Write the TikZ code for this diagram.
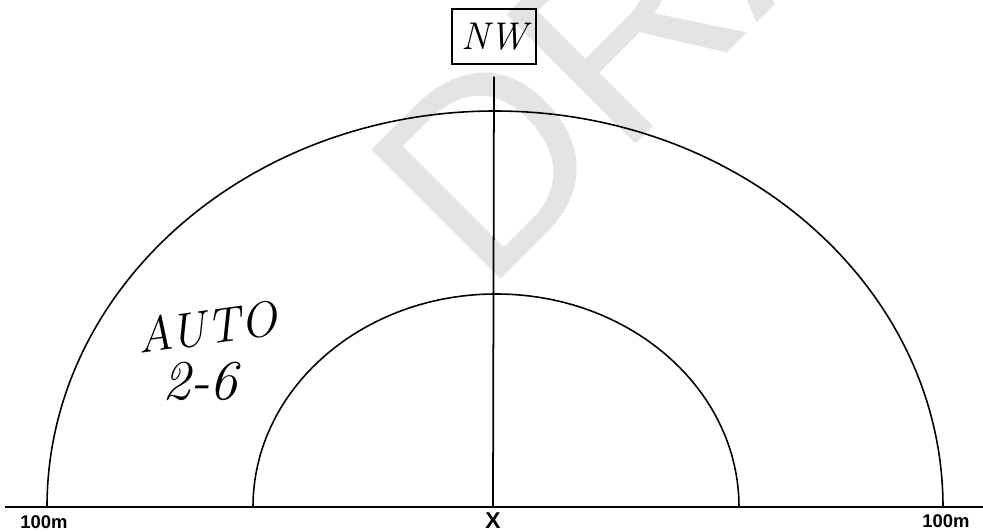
\documentclass[tikz,border=0pt]{standalone}
\usepackage{fontspec}
\newfontfamily\lblfont{Liberation Sans}
\usepackage{xcolor}
\definecolor{rgink}{HTML}{000000}
\definecolor{rgwater}{HTML}{E4E4E4}
\usepackage{tikz}
\usetikzlibrary{positioning}
\tikzset{
  rgbase/.style ={draw=rgink, line width=1.2pt},
  rgarc/.style  ={draw=rgink, line width=0.9pt},
  rgaxis/.style ={draw=rgink, line width=1.0pt},
  rgbox/.style  ={rectangle, draw=rgink, line width=0.6pt, minimum width=1.68cm,
                  minimum height=1.1cm, inner sep=0pt,
                  font=\fontsize{22}{22}\selectfont\itshape},
  rghand/.style ={inner sep=0pt, font=\fontsize{28}{28}\selectfont\itshape},
  rglbl/.style  ={inner sep=0pt, font=\lblfont\bfseries\fontsize{10.5}{11}\selectfont},
  rgmark/.style ={rglbl, font=\lblfont\bfseries\fontsize{13}{13}\selectfont},
  rgdraft/.style={inner sep=0pt, text=rgwater, rotate=45, anchor=base west,
                  font=\lblfont\fontsize{151}{151}\selectfont},
}
\begin{document}
\begin{tikzpicture}
  \useasboundingbox (-9.86,-0.48) rectangle (9.80,10.14);
  % watermark
  \begin{scope}
    \clip (-9.86,-0.48) rectangle (9.80,10.14);
    \node[rgdraft] (wm) at (-0.16,4.24) {DRAFT};
  \end{scope}
  % ground line and range rings
  \coordinate (o)  at (0,0);
  \coordinate (bl) at (-9.76,0);
  \coordinate (br) at (9.80,0);
  \draw[rgarc] (-8.92,0) arc[start angle=180, end angle=0, x radius=8.96, y radius=7.92];
  \draw[rgarc] (-4.80,0) arc[start angle=180, end angle=0, x radius=4.86, y radius=4.26];
  \draw[rgbase] (bl) -- (br);
  % bearing
  \node[rgbox] (nw) at (0.02,9.41) {NW};
  \draw[rgaxis] ([yshift=-2.4mm]nw.south) -- (o);
  % labels
  \node[rglbl]  (ll) at (-8.98,-0.31) {100m};
  \node[rglbl]  (lr) at (9.06,-0.28)  {100m};
  \node[rgmark] (lx) at (0,-0.27)     {X};
  \node[rghand, rotate=8] (auto) at (-5.72,3.60) {AUTO};
  \node[rghand, font=\fontsize{32}{32}\selectfont\itshape] (rng) at (-5.86,2.52) {2-6};
\end{tikzpicture}
\end{document}
